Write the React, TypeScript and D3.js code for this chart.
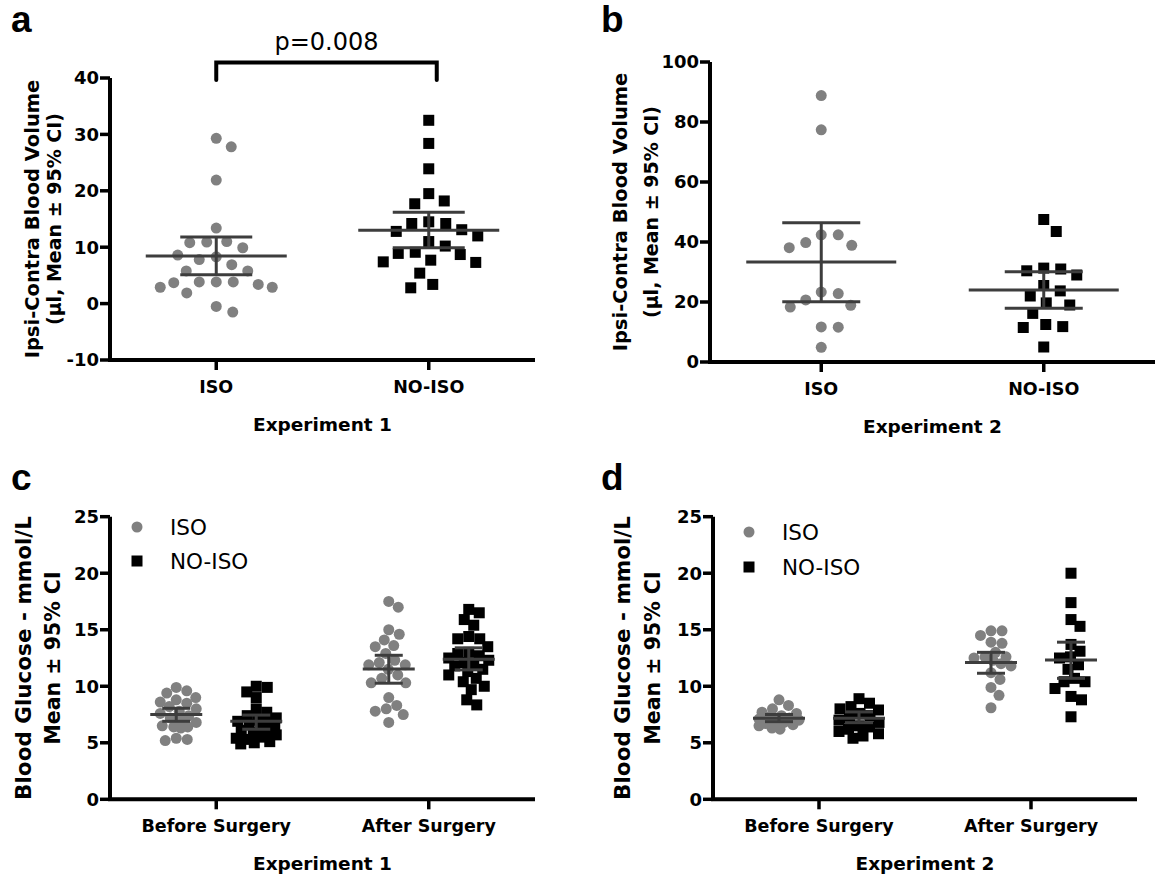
import React from "react";
import * as d3 from "d3";

// ---------------- DATA ----------------
const groupsAB = ["ISO", "NO-ISO"];
const phasesCD = ["Before Surgery", "After Surgery"];
const ticksA = [-10, 0, 10, 20, 30, 40];
const ticksB = [0, 20, 40, 60, 80, 100];
const ticksCD = [0, 5, 10, 15, 20, 25];

// Panel a (Experiment 1)
const aIso = [29.3, 27.8, 21.9, 13.4, 11.0, 10.8, 10.9, 9.9, 8.3, 8.6, 7.8, 6.9, 5.8, 5.8, 3.85, 3.85, 3.4, 2.9, 3.85, 2.9, 3.7, 1.9, -0.5, -1.5];
const aNoIso = [32.5, 28.4, 23.9, 19.5, 18.2, 17.7, 14.2, 14.5, 14.2, 12.8, 13.1, 12.0, 11.0, 10.2, 9.1, 8.7, 8.9, 7.4, 7.3, 7.7, 5.4, 2.8, 3.4];
const aMean = [8.45, 13.0];
const aLow = [5.1, 9.9];
const aHigh = [11.8, 16.2];

// Panel b (Experiment 2)
const bIso = [88.8, 77.4, 42.4, 42.4, 38.9, 38.1, 39.8, 23.3, 22.8, 20.7, 18.3, 18.9, 11.7, 11.6, 4.9];
const bNoIso = [47.5, 43.5, 31.3, 31.0, 30.4, 29.0, 25.5, 23.7, 22.0, 19.7, 19.0, 16.2, 12.5, 11.8, 11.5, 5.0];
const bMean = [33.3, 24.0];
const bLow = [20.1, 17.9];
const bHigh = [46.4, 30.1];

// Panel c (Experiment 1 glucose)
const cIsoBefore = [9.9, 9.6, 9.4, 9.0, 8.8, 8.6, 8.5, 8.2, 8.0, 7.8, 7.6, 7.4, 7.2, 7.0, 6.8, 6.5, 6.4, 6.3, 6.4, 5.4, 5.2, 5.3];
const cNoIsoBefore = [10.0, 9.9, 9.5, 9.0, 8.0, 7.7, 7.4, 7.2, 7.0, 6.9, 6.8, 6.6, 6.5, 6.3, 6.1, 6.0, 5.9, 5.7, 5.5, 5.4, 5.3, 5.1, 5.0, 4.9];
const cIsoAfter = [17.5, 17.0, 15.0, 14.6, 14.1, 13.6, 13.5, 12.9, 12.3, 12.1, 11.9, 11.9, 11.5, 11.0, 10.7, 10.3, 10.3, 9.0, 8.3, 8.0, 7.8, 7.5, 6.8];
const cNoIsoAfter = [16.8, 16.5, 15.9, 15.4, 14.4, 14.2, 14.2, 13.5, 13.0, 12.9, 12.7, 12.5, 12.3, 12.1, 12.0, 11.8, 11.5, 11.3, 11.0, 10.7, 10.4, 10.0, 9.7, 8.8, 8.35];
const cIsoMean = [7.5, 11.53];
const cIsoLow = [6.9, 10.27];
const cIsoHigh = [8.05, 12.74];
const cNoIsoMean = [6.9, 12.4];
const cNoIsoLow = [6.2, 11.45];
const cNoIsoHigh = [7.45, 13.4];

// Panel d (Experiment 2 glucose)
const dIsoBefore = [8.8, 8.3, 8.0, 7.7, 7.6, 7.4, 7.3, 7.2, 7.1, 7.0, 6.9, 6.8, 6.7, 6.6, 6.5, 6.3, 6.2];
const dNoIsoBefore = [8.9, 8.5, 8.2, 8.0, 7.9, 7.6, 7.4, 7.2, 7.0, 6.8, 6.5, 6.4, 6.2, 6.0, 5.8, 5.6, 5.4];
const dIsoAfter = [14.9, 14.9, 14.5, 13.9, 13.8, 13.0, 12.6, 12.6, 12.5, 12.3, 12.0, 11.8, 11.2, 10.6, 9.9, 9.2, 8.1];
const dNoIsoAfter = [20.0, 17.4, 15.9, 15.3, 13.7, 13.1, 12.6, 12.5, 11.9, 11.5, 10.7, 10.4, 10.4, 9.8, 9.1, 8.8, 7.3];
const dIsoMean = [7.17, 12.1];
const dIsoLow = [6.87, 11.15];
const dIsoHigh = [7.5, 13.0];
const dNoIsoMean = [7.17, 12.33];
const dNoIsoLow = [6.78, 10.7];
const dNoIsoHigh = [7.73, 13.9];

// ---------------- STYLE ----------------
const FONT = "'DejaVu Sans', sans-serif";
const LETTER_FONT = "'Liberation Sans', Arial, sans-serif";
const GREY = "#808080";
const BAR = "#3d3d3d";

// beeswarm-style dodge limited to a maximum half-width
function dodge(values: number[], y: (v: number) => number, D: number, W: number): number[] {
  const idx = values.map((_, i) => i).sort((i, j) => values[j] - values[i]);
  const placed: { x: number; y: number }[] = [];
  const out = new Array(values.length).fill(0);
  const cands: number[] = [0];
  for (let s = 0.5; s <= W; s += 0.5) {
    cands.push(s, -s);
  }
  for (const i of idx) {
    const yy = y(values[i]);
    let chosen: number | null = null;
    let best = 0;
    let bestScore = -1;
    for (const cand of cands) {
      let minD = Infinity;
      for (const p of placed) {
        const dx = cand - p.x;
        const dy = yy - p.y;
        const dd = dx * dx + dy * dy;
        if (dd < minD) minD = dd;
      }
      if (minD >= D * D - 0.01) {
        chosen = cand;
        break;
      }
      if (minD > bestScore) {
        bestScore = minD;
        best = cand;
      }
    }
    const x = chosen === null ? best : chosen;
    placed.push({ x, y: yy });
    out[i] = x;
  }
  return out;
}

type GroupProps = {
  values: number[];
  cx: number;
  y: d3.ScaleLinear<number, number>;
  D: number;
  W: number;
  shape: "circle" | "square";
  size: number;
  mean: number;
  lo: number;
  hi: number;
  meanHalf: number;
  capHalf: number;
};

function Points({ values, cx, y, D, W, shape, size }: GroupProps) {
  const offs = dodge(values, y, D, W);
  return (
    <g>
      {values.map((v, i) =>
        shape === "circle" ? (
          <circle key={i} cx={cx + offs[i]} cy={y(v)} r={size / 2} fill={GREY} />
        ) : (
          <rect key={i} x={cx + offs[i] - size / 2} y={y(v) - size / 2} width={size} height={size} fill="#000" />
        )
      )}
    </g>
  );
}

function ErrBar({ cx, y, mean, lo, hi, meanHalf, capHalf }: GroupProps) {
  return (
    <g stroke={BAR} strokeWidth={3}>
      <line x1={cx - meanHalf} x2={cx + meanHalf} y1={y(mean)} y2={y(mean)} />
      <line x1={cx - capHalf} x2={cx + capHalf} y1={y(hi)} y2={y(hi)} />
      <line x1={cx - capHalf} x2={cx + capHalf} y1={y(lo)} y2={y(lo)} />
      <line x1={cx} x2={cx} y1={y(hi)} y2={y(lo)} />
    </g>
  );
}

type AxesProps = {
  x0: number;
  x1: number;
  y: d3.ScaleLinear<number, number>;
  ticks: number[];
  cats: string[];
  xs: d3.ScalePoint<string>;
  yLabel: string[];
  yLabelX: number[];
  yLabelSize: number[];
  xTitle: string;
  catSize: number;
  letter: string;
  letterX: number;
  letterY: number;
};

function Axes(p: AxesProps) {
  const [dmin, dmax] = p.y.domain();
  const yb = p.y(dmin);
  const yt = p.y(dmax);
  const cy = (yb + yt) / 2;
  return (
    <g fontFamily={FONT}>
      <path d={`M${p.x0},${yt} V${yb} H${p.x1}`} fill="none" stroke="#000" strokeWidth={4} strokeLinejoin="miter" />
      {p.ticks.map((t) => (
        <g key={t}>
          <line x1={p.x0 - 10} x2={p.x0} y1={p.y(t)} y2={p.y(t)} stroke="#000" strokeWidth={3.5} />
          <text x={p.x0 - 11} y={p.y(t)} dy="0.36em" textAnchor="end" fontSize={18} fontWeight="bold">
            {t}
          </text>
        </g>
      ))}
      {p.cats.map((c) => (
        <g key={c}>
          <line x1={p.xs(c)} x2={p.xs(c)} y1={yb} y2={yb + 10} stroke="#000" strokeWidth={3.5} />
          <text x={p.xs(c)} y={yb + 33} textAnchor="middle" fontSize={p.catSize} fontWeight="bold">
            {c}
          </text>
        </g>
      ))}
      <text x={(p.x0 + p.x1) / 2} y={yb + 71} textAnchor="middle" fontSize={18.5} fontWeight="bold">
        {p.xTitle}
      </text>
      {p.yLabel.map((l, i) => (
        <text
          key={i}
          transform={`translate(${p.yLabelX[i]},${cy}) rotate(-90)`}
          textAnchor="middle"
          fontSize={p.yLabelSize[i]}
          fontWeight="bold"
        >
          {l}
        </text>
      ))}
      <text x={p.letterX} y={p.letterY} fontFamily={LETTER_FONT} fontSize={37} fontWeight="bold">
        {p.letter}
      </text>
    </g>
  );
}

function Legend({ x, y1, y2, tx }: { x: number; y1: number; y2: number; tx: number }) {
  return (
    <g fontFamily={FONT} fontSize={21.5}>
      <circle cx={x} cy={y1} r={5.5} fill={GREY} />
      <rect x={x - 5.5} y={y2 - 5.5} width={11} height={11} fill="#000" />
      <text x={tx} y={y1} dy="0.36em">
        {groupsAB[0]}
      </text>
      <text x={tx} y={y2} dy="0.36em">
        {groupsAB[1]}
      </text>
    </g>
  );
}

export default function App() {
  // Panel a
  const ya = d3.scaleLinear().domain([-10, 40]).range([360, 78]);
  const xa = d3.scalePoint<string>().domain(groupsAB).range([110, 535]).padding(0.5);
  // Panel b
  const yb = d3.scaleLinear().domain([0, 100]).range([362, 62]);
  const xb = d3.scalePoint<string>().domain(groupsAB).range([710, 1155]).padding(0.5);
  // Panels c, d
  const yc = d3.scaleLinear().domain([0, 25]).range([799.3, 516.7]);
  const xc = d3.scalePoint<string>().domain(phasesCD).range([110, 535]).padding(0.5);
  const yd = yc;
  const xd = d3.scalePoint<string>().domain(phasesCD).range([713, 1137]).padding(0.5);
  const sub = d3.scalePoint<string>().domain(groupsAB).range([-40, 40]);

  const abGroups = (
    vals: number[][],
    y: d3.ScaleLinear<number, number>,
    x: d3.ScalePoint<string>,
    mean: number[],
    lo: number[],
    hi: number[],
    meanHalf: number,
    capHalf: number,
    W: number
  ): GroupProps[] =>
    groupsAB.map((g, i) => ({
      values: vals[i],
      cx: x(g) as number,
      y,
      D: 17,
      W,
      shape: i === 0 ? "circle" : "square",
      size: 11,
      mean: mean[i],
      lo: lo[i],
      hi: hi[i],
      meanHalf,
      capHalf,
    }));

  const cdGroups = (
    vals: number[][][],
    y: d3.ScaleLinear<number, number>,
    x: d3.ScalePoint<string>,
    isoM: number[],
    isoL: number[],
    isoH: number[],
    noM: number[],
    noL: number[],
    noH: number[]
  ): GroupProps[] => {
    const out: GroupProps[] = [];
    phasesCD.forEach((ph, pi) => {
      groupsAB.forEach((g, gi) => {
        out.push({
          values: vals[pi][gi],
          cx: (x(ph) as number) + (sub(g) as number),
          y,
          D: 11,
          W: 20,
          shape: gi === 0 ? "circle" : "square",
          size: 11,
          mean: gi === 0 ? isoM[pi] : noM[pi],
          lo: gi === 0 ? isoL[pi] : noL[pi],
          hi: gi === 0 ? isoH[pi] : noH[pi],
          meanHalf: 26,
          capHalf: 14,
        });
      });
    });
    return out;
  };

  const gA = abGroups([aIso, aNoIso], ya, xa, aMean, aLow, aHigh, 70.5, 36, 56);
  const gB = abGroups([bIso, bNoIso], yb, xb, bMean, bLow, bHigh, 75, 39, 36);
  const gC = cdGroups(
    [
      [cIsoBefore, cNoIsoBefore],
      [cIsoAfter, cNoIsoAfter],
    ],
    yc,
    xc,
    cIsoMean,
    cIsoLow,
    cIsoHigh,
    cNoIsoMean,
    cNoIsoLow,
    cNoIsoHigh
  );
  const gD = cdGroups(
    [
      [dIsoBefore, dNoIsoBefore],
      [dIsoAfter, dNoIsoAfter],
    ],
    yd,
    xd,
    dIsoMean,
    dIsoLow,
    dIsoHigh,
    dNoIsoMean,
    dNoIsoLow,
    dNoIsoHigh
  );

  const all = [...gA, ...gB, ...gC, ...gD];

  const bx1 = xa(groupsAB[0]) as number;
  const bx2 = (xa(groupsAB[1]) as number) + 8;

  return (
    <svg
      width={1155}
      height={874}
      viewBox="0 0 1155 874"
      style={{ position: "fixed", left: 0, top: 0, background: "#fff" }}
    >
      <rect x={0} y={0} width={1155} height={874} fill="#fff" />
      <Axes
        x0={110}
        x1={535}
        y={ya}
        ticks={ticksA}
        cats={groupsAB}
        xs={xa}
        yLabel={["Ipsi-Contra Blood Volume", "(\u00b5l, Mean \u00b1 95% CI)"]}
        yLabelX={[39, 61]}
        yLabelSize={[19.5, 19]}
        xTitle="Experiment 1"
        catSize={17.5}
        letter="a"
        letterX={11}
        letterY={32}
      />
      <Axes
        x0={710}
        x1={1155}
        y={yb}
        ticks={ticksB}
        cats={groupsAB}
        xs={xb}
        yLabel={["Ipsi-Contra Blood Volume", "(\u00b5l, Mean \u00b1 95% CI)"]}
        yLabelX={[627, 658]}
        yLabelSize={[19.5, 19]}
        xTitle="Experiment 2"
        catSize={17.5}
        letter="b"
        letterX={601}
        letterY={32}
      />
      <Axes
        x0={110}
        x1={535}
        y={yc}
        ticks={ticksCD}
        cats={phasesCD}
        xs={xc}
        yLabel={["Blood Glucose - mmol/L", "Mean \u00b1 95% CI"]}
        yLabelX={[31, 60]}
        yLabelSize={[21.5, 20.5]}
        xTitle="Experiment 1"
        catSize={17.5}
        letter="c"
        letterX={11}
        letterY={490}
      />
      <Axes
        x0={713}
        x1={1137}
        y={yd}
        ticks={ticksCD}
        cats={phasesCD}
        xs={xd}
        yLabel={["Blood Glucose - mmol/L", "Mean \u00b1 95% CI"]}
        yLabelX={[630, 660]}
        yLabelSize={[21.5, 20.5]}
        xTitle="Experiment 2"
        catSize={17.5}
        letter="d"
        letterX={601}
        letterY={490}
      />
      {all.map((g, i) => (
        <Points key={"p" + i} {...g} />
      ))}
      {all.map((g, i) => (
        <ErrBar key={"e" + i} {...g} />
      ))}
      {/* significance bracket */}
      <path
        d={`M${bx1},80 V62.5 H${bx2} V80`}
        fill="none"
        stroke="#000"
        strokeWidth={4}
        strokeLinecap="round"
        strokeLinejoin="miter"
      />
      <text x={(bx1 + bx2) / 2} y={50} textAnchor="middle" fontFamily={FONT} fontSize={24}>
        p=0.008
      </text>
      <Legend x={137} y1={527} y2={561} tx={170} />
      <Legend x={749} y1={532} y2={567} tx={782} />
    </svg>
  );
}
